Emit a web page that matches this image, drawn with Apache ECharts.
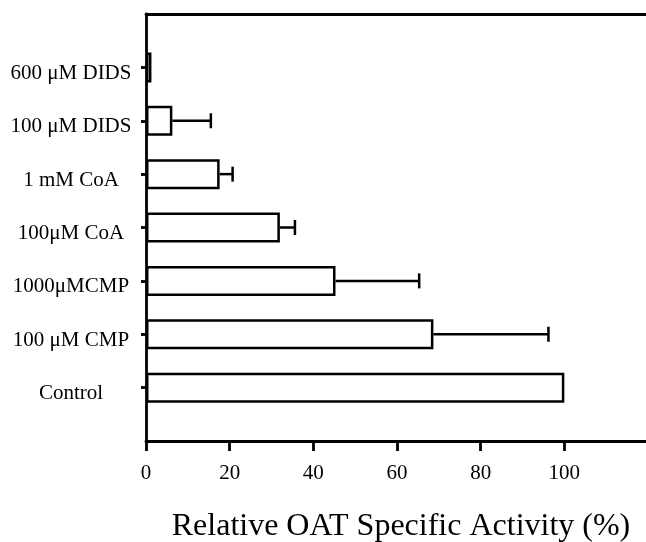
<!DOCTYPE html>
<html>
<head>
<meta charset="utf-8">
<title>Relative OAT Specific Activity</title>
<script src="https://cdn.jsdelivr.net/npm/echarts@6/dist/echarts.min.js"></script>
<style>
  html, body { margin: 0; padding: 0; background: #fff; }
  #chart { width: 646px; height: 542px; }
</style>
</head>
<body>
<div id="chart"></div>
<script>
// treatments, bottom to top
var treatments = ['Control', '100 \u03bcM CMP', '1000\u03bcMCMP', '100\u03bcM CoA', '1 mM CoA', '100 \u03bcM DIDS', '600 \u03bcM DIDS'];
// relative activity (%)
var activity = [100, 68.7, 45.3, 32.0, 17.6, 6.3, 1.3];
// error bar length (%)
var errors = [0, 27.5, 20.0, 3.6, 3.1, 9.2, 0];
var xTicks = [0, 20, 40, 60, 80, 100];

var FONT = "'Liberation Serif', 'Times New Roman', serif";

// empty slot above and below so the bars sit inside the frame
var cats = [''].concat(treatments, ['']);
var barData = ['-'].concat(activity, ['-']);
var errData = [];
for (var i = 0; i < treatments.length; i++) {
  if (errors[i] > 0) errData.push([activity[i], i + 1, errors[i]]);
}

var chart = echarts.init(document.getElementById('chart'));

var option = {
  animation: false,
  backgroundColor: '#fff',
  grid: { left: 146, top: 14, width: 502, bottom: 101, containLabel: false, outerBoundsMode: 'none' },
  xAxis: [{
    type: 'value',
    min: 0, max: 120, interval: 20,
    splitLine: { show: false },
    axisLine: { show: true, lineStyle: { color: '#000', width: 2.8 } },
    axisTick: { show: true, length: 10, lineStyle: { color: '#000', width: 2.8 } },
    axisLabel: {
      color: '#000', fontFamily: FONT, fontSize: 21, margin: 22,
      showMaxLabel: false,
      formatter: function (v) { return xTicks.indexOf(v) >= 0 ? String(v) : ''; }
    },
    name: 'Relative OAT Specific Activity (%)',
    nameLocation: 'middle',
    nameGap: 70,
    nameTextStyle: { color: '#000', fontFamily: FONT, fontSize: 32, padding: [0, 0, 0, 8] }
  }, {
    type: 'value',
    position: 'top',
    min: 0, max: 120,
    splitLine: { show: false },
    axisLine: { show: true, lineStyle: { color: '#000', width: 2.8 } },
    axisTick: { show: false },
    axisLabel: { show: false }
  }],
  yAxis: {
    type: 'category',
    data: cats,
    boundaryGap: false,
    axisLine: { show: true, lineStyle: { color: '#000', width: 2.8 } },
    axisTick: {
      show: true, length: 5,
      interval: function (idx, val) { return val !== ''; },
      lineStyle: { color: '#000', width: 2.8 }
    },
    axisLabel: {
      color: '#000', fontFamily: FONT, fontSize: 21,
      align: 'center', margin: 75,
      verticalAlign: 'top', lineHeight: 12,
      interval: 0
    }
  },
  series: [{
    type: 'bar',
    data: barData,
    barWidth: 30,
    itemStyle: { color: '#fff', borderColor: '#000', borderWidth: 2.5 },
    z: 3
  }, {
    type: 'custom',
    data: errData,
    z: 2,
    renderItem: function (params, api) {
      var v = api.value(0), c = api.value(1), e = api.value(2);
      var p0 = api.coord([v, c]);
      var p1 = api.coord([v + e, c]);
      var h = 7.5;
      var st = { stroke: '#000', lineWidth: 2.5 };
      return {
        type: 'group',
        children: [
          { type: 'line', shape: { x1: p0[0], y1: p0[1], x2: p1[0], y2: p1[1] }, style: st },
          { type: 'line', shape: { x1: p1[0], y1: p1[1] - h, x2: p1[0], y2: p1[1] + h }, style: st }
        ]
      };
    }
  }]
};

chart.setOption(option);
</script>
</body>
</html>
